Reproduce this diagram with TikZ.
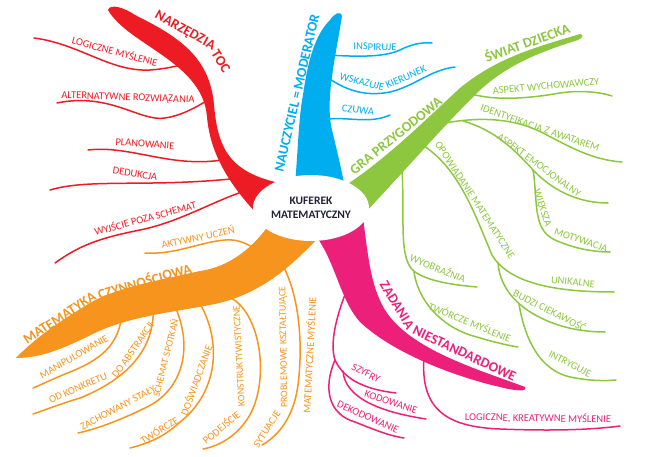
\documentclass[tikz,border=0pt]{standalone}
\usepackage{fontspec}
\setmainfont{Carlito}
\usetikzlibrary{shapes.geometric}
\definecolor{tocred}{RGB}{237,28,36}
\definecolor{moderblue}{RGB}{0,174,239}
\definecolor{worldgreen}{RGB}{141,198,63}
\definecolor{actorange}{RGB}{247,148,29}
\definecolor{taskpink}{RGB}{236,32,122}
\definecolor{hubink}{RGB}{35,35,55}

\begin{document}
\begin{tikzpicture}[
    x=1pt,y=-1pt,
    twig/.style={line width=1.5pt,line cap=round},
    leaf/.style={inner sep=0pt,font=\fontsize{10.5}{11}\selectfont},
    smallleaf/.style={inner sep=0pt,font=\fontsize{10}{11}\selectfont},
    title/.style={inner sep=0pt,font=\fontsize{14}{15}\selectfont\bfseries},
    hub/.style={ellipse,fill=white,minimum width=116pt,minimum height=66pt,
      inner sep=0pt,align=center,text=hubink,font=\fontsize{11.5}{14}\selectfont\bfseries}
  ]
  \useasboundingbox (0,0) rectangle (647,457);
  \draw[twig,tocred] (34,38) .. controls (80,44) and (110,72) .. (150,70) .. controls (165,69) and (178,66) .. (192,62);
  \draw[twig,tocred] (57,103) .. controls (110,92) and (140,122) .. (165,118) .. controls (180,116) and (195,108) .. (208,100);
  \draw[twig,tocred] (88,150) .. controls (130,145) and (170,168) .. (222,160);
  \draw[twig,tocred] (50,190) .. controls (90,178) and (150,188) .. (240,178);
  \draw[twig,tocred] (55,263) .. controls (80,245) and (100,238) .. (140,230) .. controls (180,222) and (215,200) .. (248,190);
  \draw[twig,moderblue] (328,55) .. controls (360,57) and (385,57) .. (400,50) .. controls (410,45) and (420,42) .. (432,43);
  \draw[twig,moderblue] (327,77) .. controls (345,90) and (365,97) .. (390,92) .. controls (415,86) and (430,70) .. (455,67);
  \draw[twig,moderblue] (328,119) .. controls (350,117) and (370,124) .. (390,115);
  \draw[twig,worldgreen] (468,93) .. controls (490,100) and (520,100) .. (560,93) .. controls (580,90) and (600,92) .. (612,96);
  \draw[twig,worldgreen] (440,124) .. controls (480,116) and (515,118) .. (545,134) .. controls (575,150) and (595,160) .. (622,162);
  \draw[twig,worldgreen] (463,121) .. controls (495,130) and (515,150) .. (535,172) .. controls (555,192) and (580,203) .. (608,203);
  \draw[twig,worldgreen] (533,170) .. controls (538,200) and (532,230) .. (555,240) .. controls (575,249) and (595,252) .. (610,252);
  \draw[twig,worldgreen] (424,146) .. controls (460,170) and (475,215) .. (492,255) .. controls (510,285) and (560,292) .. (614,292);
  \draw[twig,worldgreen] (498,263) .. controls (500,290) and (520,310) .. (550,322) .. controls (570,330) and (590,332) .. (605,332);
  \draw[twig,worldgreen] (519,304) .. controls (525,340) and (540,370) .. (570,377) .. controls (590,381) and (605,381) .. (616,380);
  \draw[twig,worldgreen] (402,170) .. controls (405,220) and (398,260) .. (415,272) .. controls (430,282) and (455,285) .. (477,287);
  \draw[twig,worldgreen] (414,272) .. controls (418,300) and (440,325) .. (470,335) .. controls (490,341) and (505,345) .. (518,347);
  \draw[twig,actorange] (145,253) .. controls (175,255) and (200,242) .. (225,240) .. controls (238,239) and (245,243) .. (258,250);
  \draw[twig,actorange] (122,312) .. controls (120,345) and (100,360) .. (70,372) .. controls (55,378) and (45,383) .. (33,388);
  \draw[twig,actorange] (153,306) .. controls (156,350) and (125,380) .. (80,398) .. controls (60,404) and (45,410) .. (33,414);
  \draw[twig,actorange] (172,300) .. controls (195,345) and (184,390) .. (145,408) .. controls (120,420) and (100,428) .. (78,433);
  \draw[twig,actorange] (198,300) .. controls (225,345) and (215,395) .. (180,422) .. controls (165,436) and (150,443) .. (130,448);
  \draw[twig,actorange] (226,296) .. controls (255,305) and (268,360) .. (256,400) .. controls (248,428) and (225,445) .. (203,449);
  \draw[twig,actorange] (281,262) .. controls (300,295) and (303,345) .. (298,385) .. controls (294,415) and (280,435) .. (262,445);
  \draw[twig,taskpink] (346,292) .. controls (335,320) and (330,345) .. (335,360);
  \draw[twig,taskpink] (335,360) .. controls (345,382) and (370,390) .. (396,393);
  \draw[twig,taskpink] (343,371) .. controls (345,398) and (380,412) .. (426,419);
  \draw[twig,taskpink] (335,360) .. controls (322,390) and (330,415) .. (355,422) .. controls (375,430) and (390,436) .. (404,438);
  \draw[twig,taskpink] (424,358) .. controls (420,412) and (450,427) .. (500,429) .. controls (550,431) and (590,430) .. (620,426);

  \fill[tocred] (108,10) .. controls (110,3) and (125,8) .. (135,15) .. controls (175,35) and (210,55) .. (214,105) .. controls (218,150) and (230,175) .. (290,185) -- (258,215) .. controls (225,180) and (210,150) .. (207,117) .. controls (203,62) and (128,45) .. (108,10) -- cycle;
  \fill[moderblue] (330,20) .. controls (334,14) and (340,10) .. (342,16) .. controls (335,60) and (325,100) .. (332,130) .. controls (338,155) and (343,175) .. (348,205) -- (293,205) .. controls (298,160) and (298,120) .. (303,95) .. controls (308,60) and (315,35) .. (330,20) -- cycle;
  \fill[worldgreen] (335,192) .. controls (380,165) and (420,125) .. (460,88) .. controls (500,55) and (545,45) .. (580,34) .. controls (584,35) and (583,38) .. (578,40) .. controls (540,52) and (505,65) .. (475,95) .. controls (440,130) and (410,165) .. (364,214) -- cycle;
  \fill[actorange] (278,210) .. controls (262,240) and (235,266) .. (200,271) .. controls (160,280) and (115,288) .. (90,303) .. controls (60,321) and (35,338) .. (16,358) .. controls (45,358) and (70,345) .. (95,333) .. controls (130,316) and (175,312) .. (215,304) .. controls (265,293) and (295,262) .. (322,234) -- cycle;
  \fill[taskpink] (315,235) .. controls (335,260) and (340,300) .. (360,322) .. controls (395,355) and (460,378) .. (500,387) .. controls (515,391) and (528,392) .. (525,387) .. controls (480,370) and (410,350) .. (385,310) .. controls (370,285) and (368,255) .. (362,210) -- cycle;

  \node[hub] (hub) at (311,208) {KUFEREK\\MATEMATYCZNY};

  \node[title,text=tocred,rotate=-29] (narz) at (185,31) {NARZĘDZIA};
  \node[title,text=tocred,rotate=-58] (toc) at (221,61) {TOC};
  \node[leaf,text=tocred,rotate=-15] (logm) at (115,51) {LOGICZNE MYŚLENIE};
  \node[leaf,text=tocred,rotate=-2] (altr) at (128,98) {ALTERNATYWNE ROZWIĄZANIA};
  \node[leaf,text=tocred,rotate=-4] (plan) at (145,144) {PLANOWANIE};
  \node[leaf,text=tocred,rotate=-9] (dedu) at (135,174) {DEDUKCJA};
  \node[leaf,text=tocred,rotate=15] (wyjs) at (145,218) {WYJŚCIE POZA SCHEMAT};

  \node[title,text=moderblue,rotate=77] (naucz) at (297,93) {NAUCZYCIEL = MODERATOR};
  \node[leaf,text=moderblue,rotate=-2] (insp) at (375,47) {INSPIRUJE};
  \node[leaf,text=moderblue,rotate=-15] (wska) at (362,82) {WSKAZUJE};
  \node[leaf,text=moderblue,rotate=24] (kier) at (406,77) {KIERUNEK};
  \node[leaf,text=moderblue,rotate=-7] (czuwa) at (358,110) {CZUWA};

  \node[title,text=worldgreen,rotate=39] (gra) at (396,136) {GRA PRZYGODOWA};
  \node[title,text=worldgreen,rotate=20] (swiat) at (527,42) {ŚWIAT DZIECKA};
  \node[leaf,text=worldgreen,rotate=5] (wych) at (546,86) {ASPEKT WYCHOWAWCZY};
  \node[leaf,text=worldgreen,rotate=-19] (ident) at (540,128) {IDENTYFIKACJA Z AWATAREM};
  \node[leaf,text=worldgreen,rotate=-36] (emoc) at (539,165) {ASPEKT EMOCJONALNY};
  \node[leaf,text=worldgreen,rotate=-72] (wiek) at (542,208) {WIĘKSZA};
  \node[leaf,text=worldgreen,rotate=-19] (motyw) at (581,240) {MOTYWACJA};
  \node[leaf,text=worldgreen,rotate=-57] (opow) at (475,200) {OPOWIADANIE MATEMATYCZNE};
  \node[leaf,text=worldgreen,rotate=-6] (unik) at (573,282) {UNIKALNE};
  \node[leaf,text=worldgreen,rotate=-27] (budzi) at (550,310) {BUDZI CIEKAWOŚĆ};
  \node[leaf,text=worldgreen,rotate=-28] (intr) at (570,364) {INTRYGUJE};
  \node[leaf,text=worldgreen,rotate=-22] (wyobr) at (438,268) {WYOBRAŹNIA};
  \node[leaf,text=worldgreen,rotate=-22] (tworm) at (470,322) {TWÓRCZE MYŚLENIE};

  \node[title,text=actorange,rotate=33] (mat) at (59.5,318) {MATEMATYKA};
  \node[title,text=actorange,rotate=16] (czyn) at (144.5,280.5) {CZYNNOŚCIOWA};
  \node[leaf,text=actorange,rotate=12] (aktyw) at (198,237) {AKTYWNY UCZEŃ};
  \node[leaf,text=actorange,rotate=30] (manip) at (74,357) {MANIPULOWANIE};
  \node[leaf,text=actorange,rotate=24] (konkr) at (78,388) {OD KONKRETU};
  \node[leaf,text=actorange,rotate=55] (abstr) at (133,350) {DO ABSTRAKCJI};
  \node[leaf,text=actorange,rotate=28] (zach) at (118,408) {ZACHOWANY STAŁY};
  \node[smallleaf,text=actorange,rotate=76] (spotk) at (165,358) {SCHEMAT SPOTKAŃ};
  \node[leaf,text=actorange,rotate=32] (tworc) at (159,430) {TWÓRCZE};
  \node[leaf,text=actorange,rotate=70] (doswi) at (196,380) {DOŚWIADCZANIE};
  \node[leaf,text=actorange,rotate=40] (podej) at (221,427) {PODEJŚCIE};
  \node[smallleaf,text=actorange,rotate=93] (konst) at (239,356) {KONSTRUKTYWISTYCZNE};
  \node[leaf,text=actorange,rotate=57] (sytu) at (267,429) {SYTUACJE};
  \node[smallleaf,text=actorange,rotate=91] (probl) at (284,347) {PROBLEMOWE KSZTAŁTUJĄCE};
  \node[leaf,text=actorange,rotate=87] (matm) at (309,355) {MATEMATYCZNE MYŚLENIE};

  \node[title,text=taskpink,rotate=-59] (zad) at (397,305) {ZADANIA};
  \node[title,text=taskpink,rotate=-25] (niest) at (464.5,353.5) {NIESTANDARDOWE};
  \node[leaf,text=taskpink,rotate=-27] (szyfr) at (366,373) {SZYFRY};
  \node[leaf,text=taskpink,rotate=-18] (kodow) at (391,402) {KODOWANIE};
  \node[leaf,text=taskpink,rotate=-24] (dekod) at (368,417) {DEKODOWANIE};
  \node[leaf,text=taskpink,rotate=-1] (logkr) at (538,418) {LOGICZNE, KREATYWNE MYŚLENIE};
\end{tikzpicture}
\end{document}
